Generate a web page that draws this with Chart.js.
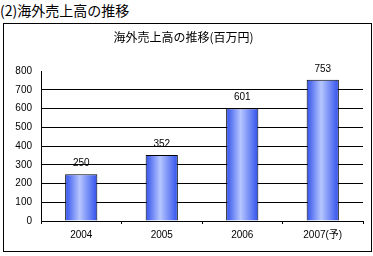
<!DOCTYPE html>
<html>
<head>
<meta charset="utf-8">
<script src="https://cdn.jsdelivr.net/npm/chart.js@4"></script>
<style>
  body { margin: 0; width: 373px; height: 256px; background: #fff; position: relative; overflow: hidden; }
  #heading { position: absolute; left: 0; top: 0; font: 14px/20px "Noto Sans CJK JP", sans-serif; color: #000; white-space: nowrap; }
  #frame { position: absolute; left: 3px; top: 23px; width: 369px; height: 229px; box-sizing: border-box; border: 1px solid #000; }
  #chart { display: block; }
</style>
</head>
<body>
<div id="heading">(2)海外売上高の推移</div>
<div id="frame"><canvas id="chart" width="367" height="227"></canvas></div>
<script>
// data
var years = ["2004", "2005", "2006", "2007(予)"];
var sales = [250, 352, 601, 753];
var yTicks = [0, 100, 200, 300, 400, 500, 600, 700, 800];

var fontFam = '"Liberation Sans", "Noto Sans CJK JP", sans-serif';
Chart.defaults.font.family = fontFam;
Chart.defaults.font.size = 10;
Chart.defaults.color = "#000";

// blue bar gradient, dark edges, light middle
function barFill(ctx) {
    var chart = ctx.chart;
    if (!chart.chartArea || !chart.scales.x) return "#5577ee";
    var xs = chart.scales.x;
    var cx = xs.getPixelForValue(ctx.dataIndex);
    var w = xs.width / years.length * 0.4;
    var g = chart.ctx.createLinearGradient(cx - w / 2, 0, cx + w / 2, 0);
    g.addColorStop(0, "#3050ec");
    g.addColorStop(0.45, "#b6c6ff");
    g.addColorStop(1, "#3050ec");
    return g;
}

var valueLabels = {
    id: "valueLabels",
    afterDatasetsDraw: function (chart) {
        var c = chart.ctx;
        var meta = chart.getDatasetMeta(0);
        c.save();
        c.font = "10px " + fontFam;
        c.fillStyle = "#000";
        c.textAlign = "center";
        c.textBaseline = "middle";
        meta.data.forEach(function (bar, i) {
            c.fillText(String(sales[i]), bar.x, bar.y - 11);
        });
        c.restore();
    }
};

new Chart(document.getElementById("chart"), {
    type: "bar",
    data: {
        labels: years,
        datasets: [{
            data: sales,
            backgroundColor: barFill,
            borderColor: "#000",
            borderWidth: 1,
            borderSkipped: "bottom",
            categoryPercentage: 1,
            barPercentage: 0.4
        }]
    },
    options: {
        responsive: false,
        animation: false,
        events: [],
        layout: { padding: { left: 0, right: 8, top: 0, bottom: 0 } },
        plugins: {
            legend: { display: false },
            tooltip: { enabled: false },
            title: {
                display: true,
                text: "海外売上高の推移(百万円)",
                font: { size: 12, family: '"Noto Sans CJK JP", sans-serif', weight: "normal" },
                color: "#000",
                padding: { top: 6, bottom: 26.6 }
            }
        },
        scales: {
            x: {
                grid: { drawOnChartArea: false, drawTicks: true, tickLength: 3, color: "#000", offset: true },
                border: { display: true, color: "#000", width: 1 },
                ticks: { padding: 5, maxRotation: 0, autoSkip: false },
                afterFit: function (s) { s.height = 30; }
            },
            y: {
                min: 0,
                max: 800,
                afterBuildTicks: function (s) { s.ticks = yTicks.map(function (v) { return { value: v }; }); },
                grid: {
                    drawTicks: false,
                    color: function (ctx) { return ctx.tick && ctx.tick.value === 800 ? "rgba(0,0,0,0)" : "#000"; }
                },
                border: { display: true, color: "#000", width: 1 },
                ticks: { padding: 9 },
                afterFit: function (s) { s.width = 37; }
            }
        }
    },
    plugins: [valueLabels]
});
</script>
</body>
</html>
